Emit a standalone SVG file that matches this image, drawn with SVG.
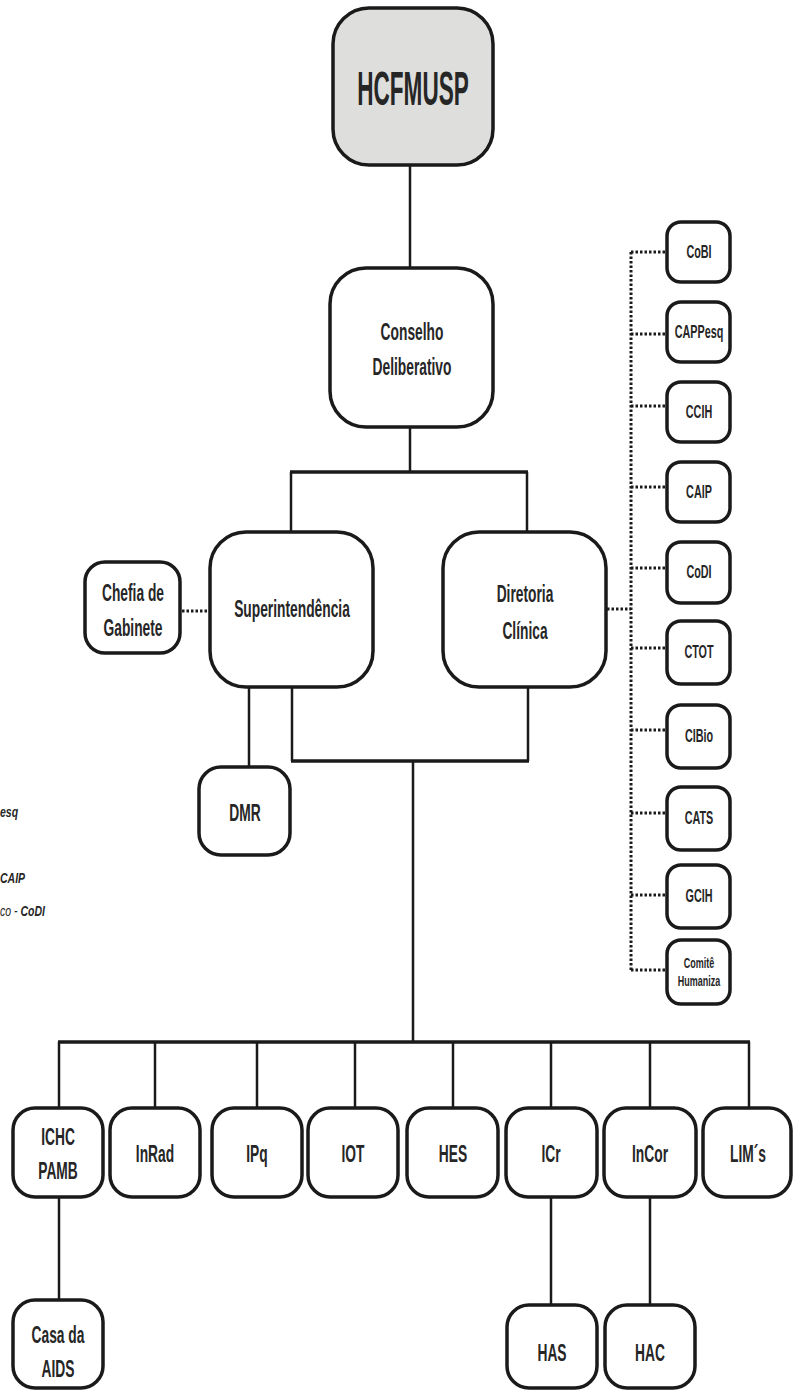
<svg xmlns="http://www.w3.org/2000/svg" width="793" height="1391" viewBox="0 0 793 1391">
<style>
.box{fill:#fff;stroke:#1a1a1a;stroke-width:3.5}
.root{fill:#dededc;stroke:#1a1a1a;stroke-width:3.5}
.t{font-family:"Liberation Sans",Arial,sans-serif;font-weight:bold;fill:#262626;text-anchor:middle}
.big{font-size:48px}
.m{font-size:23px}
.s{font-size:18px}
.xs{font-size:15px}
.leg{font-family:"Liberation Sans",Arial,sans-serif;font-style:italic;font-size:15px;fill:#262626}
.ln{stroke:#1a1a1a;stroke-width:2.5;fill:none}
.bar{stroke:#1a1a1a;stroke-width:3.5;fill:none}
.dot{stroke:#1a1a1a;stroke-width:3;stroke-dasharray:2.5 2;fill:none}
</style>
<rect width="793" height="1391" fill="#fff"/>

<g id="connectors">
<line class="ln" x1="410" y1="165" x2="410" y2="268"/>
<line class="ln" x1="410" y1="427" x2="410" y2="472"/>
<line class="bar" x1="290" y1="472" x2="528" y2="472"/>
<line class="ln" x1="291" y1="472" x2="291" y2="532"/>
<line class="ln" x1="527" y1="472" x2="527" y2="532"/>
<line class="dot" x1="182" y1="611" x2="209" y2="611"/>
<line class="dot" x1="607" y1="609" x2="631" y2="609"/>
<line class="ln" x1="249" y1="687" x2="249" y2="767"/>
<line class="ln" x1="292" y1="687" x2="292" y2="761"/>
<line class="ln" x1="528" y1="687" x2="528" y2="761"/>
<line class="bar" x1="291" y1="761" x2="529" y2="761"/>
<line class="ln" x1="413" y1="761" x2="413" y2="1042"/>
<line class="bar" x1="58" y1="1042" x2="750" y2="1042"/>
<line class="ln" x1="59" y1="1042" x2="59" y2="1108"/>
<line class="ln" x1="155" y1="1042" x2="155" y2="1108"/>
<line class="ln" x1="257" y1="1042" x2="257" y2="1108"/>
<line class="ln" x1="355" y1="1042" x2="355" y2="1108"/>
<line class="ln" x1="453" y1="1042" x2="453" y2="1108"/>
<line class="ln" x1="551" y1="1042" x2="551" y2="1108"/>
<line class="ln" x1="650" y1="1042" x2="650" y2="1108"/>
<line class="ln" x1="749" y1="1042" x2="749" y2="1108"/>
<line class="ln" x1="59" y1="1197" x2="59" y2="1300"/>
<line class="ln" x1="551" y1="1197" x2="551" y2="1305"/>
<line class="ln" x1="650" y1="1197" x2="650" y2="1305"/>
<line class="dot" x1="631" y1="252" x2="631" y2="970"/>
<line class="dot" x1="631" y1="252" x2="666" y2="252"/>
<line class="dot" x1="631" y1="334" x2="666" y2="334"/>
<line class="dot" x1="631" y1="406" x2="666" y2="406"/>
<line class="dot" x1="631" y1="487" x2="666" y2="487"/>
<line class="dot" x1="631" y1="568" x2="666" y2="568"/>
<line class="dot" x1="631" y1="648" x2="666" y2="648"/>
<line class="dot" x1="631" y1="730" x2="666" y2="730"/>
<line class="dot" x1="631" y1="813" x2="666" y2="813"/>
<line class="dot" x1="631" y1="895" x2="666" y2="895"/>
<line class="dot" x1="631" y1="970" x2="666" y2="970"/>
</g>

<g id="hcfmusp"><rect class="root" x="333" y="8" width="160" height="157" rx="36"/><text class="t big" transform="translate(413,105) scale(0.47,1)">HCFMUSP</text></g>
<g id="conselho"><rect class="box" x="330" y="268" width="163" height="159" rx="36"/><text class="t m" transform="translate(412,340) scale(0.6,1)">Conselho</text><text class="t m" transform="translate(412,375) scale(0.6,1)">Deliberativo</text></g>
<g id="superintendencia"><rect class="box" x="210" y="532" width="163" height="155" rx="36"/><text class="t m" transform="translate(292,617) scale(0.6,1)">Superintendência</text></g>
<g id="diretoria"><rect class="box" x="443" y="532" width="163" height="155" rx="36"/><text class="t m" transform="translate(525,602) scale(0.6,1)">Diretoria</text><text class="t m" transform="translate(525,639) scale(0.6,1)">Clínica</text></g>
<g id="chefia"><rect class="box" x="85" y="562" width="95" height="91" rx="20"/><text class="t m" transform="translate(133,601) scale(0.6,1)">Chefia de</text><text class="t m" transform="translate(133,636) scale(0.6,1)">Gabinete</text></g>
<g id="dmr"><rect class="box" x="199" y="767" width="91" height="88" rx="22"/><text class="t m" transform="translate(245,821) scale(0.6,1)">DMR</text></g>

<g id="cobi"><rect class="box" x="667" y="222" width="63" height="60" rx="14"/><text class="t s" transform="translate(699,258) scale(0.6,1)">CoBI</text></g>
<g id="cappesq"><rect class="box" x="667" y="302" width="63" height="60" rx="14"/><text class="t s" transform="translate(699,338) scale(0.6,1)">CAPPesq</text></g>
<g id="ccih"><rect class="box" x="667" y="382" width="63" height="60" rx="14"/><text class="t s" transform="translate(699,418) scale(0.6,1)">CCIH</text></g>
<g id="caip"><rect class="box" x="667" y="462" width="63" height="60" rx="14"/><text class="t s" transform="translate(699,498) scale(0.6,1)">CAIP</text></g>
<g id="codi"><rect class="box" x="667" y="542" width="63" height="61" rx="14"/><text class="t s" transform="translate(699,578) scale(0.6,1)">CoDI</text></g>
<g id="ctot"><rect class="box" x="667" y="621" width="63" height="63" rx="14"/><text class="t s" transform="translate(699,658) scale(0.6,1)">CTOT</text></g>
<g id="cibio"><rect class="box" x="667" y="705" width="63" height="63" rx="14"/><text class="t s" transform="translate(699,742) scale(0.6,1)">CIBio</text></g>
<g id="cats"><rect class="box" x="667" y="787" width="63" height="63" rx="14"/><text class="t s" transform="translate(699,824) scale(0.6,1)">CATS</text></g>
<g id="gcih"><rect class="box" x="667" y="865" width="63" height="63" rx="14"/><text class="t s" transform="translate(699,902) scale(0.6,1)">GCIH</text></g>
<g id="comite"><rect class="box" x="667" y="940" width="63" height="64" rx="14"/><text class="t xs" transform="translate(699,968) scale(0.6,1)">Comitê</text><text class="t xs" transform="translate(699,986) scale(0.6,1)">Humaniza</text></g>

<g id="ichc"><rect class="box" x="13" y="1108" width="90" height="89" rx="22"/><text class="t m" transform="translate(58,1145) scale(0.6,1)">ICHC</text><text class="t m" transform="translate(58,1179) scale(0.6,1)">PAMB</text></g>
<g id="inrad"><rect class="box" x="110" y="1108" width="90" height="89" rx="22"/><text class="t m" transform="translate(155,1162) scale(0.6,1)">InRad</text></g>
<g id="ipq"><rect class="box" x="212" y="1108" width="90" height="89" rx="22"/><text class="t m" transform="translate(257,1162) scale(0.6,1)">IPq</text></g>
<g id="iot"><rect class="box" x="308" y="1108" width="90" height="89" rx="22"/><text class="t m" transform="translate(353,1162) scale(0.6,1)">IOT</text></g>
<g id="hes"><rect class="box" x="407" y="1108" width="91" height="89" rx="22"/><text class="t m" transform="translate(453,1162) scale(0.6,1)">HES</text></g>
<g id="icr"><rect class="box" x="506" y="1108" width="91" height="89" rx="22"/><text class="t m" transform="translate(551,1162) scale(0.6,1)">ICr</text></g>
<g id="incor"><rect class="box" x="604" y="1108" width="92" height="89" rx="22"/><text class="t m" transform="translate(650,1162) scale(0.6,1)">InCor</text></g>
<g id="lims"><rect class="box" x="703" y="1108" width="88" height="89" rx="22"/><text class="t m" transform="translate(748,1162) scale(0.6,1)">LIM´s</text></g>

<g id="casa"><rect class="box" x="13" y="1300" width="90" height="88" rx="22"/><text class="t m" transform="translate(58,1343) scale(0.6,1)">Casa da</text><text class="t m" transform="translate(58,1377) scale(0.6,1)">AIDS</text></g>
<g id="has"><rect class="box" x="507" y="1305" width="90" height="83" rx="22"/><text class="t m" transform="translate(552,1361) scale(0.6,1)">HAS</text></g>
<g id="hac"><rect class="box" x="605" y="1305" width="90" height="83" rx="22"/><text class="t m" transform="translate(650,1361) scale(0.6,1)">HAC</text></g>

<g id="legend-fragment">
<text class="leg" font-weight="bold" transform="translate(0,817) scale(0.7,1)">esq</text>
<text class="leg" font-weight="bold" transform="translate(0,883) scale(0.7,1)">CAIP</text>
<text class="leg" transform="translate(0,916) scale(0.7,1)">co - <tspan font-weight="bold">CoDI</tspan></text>
</g>
</svg>
